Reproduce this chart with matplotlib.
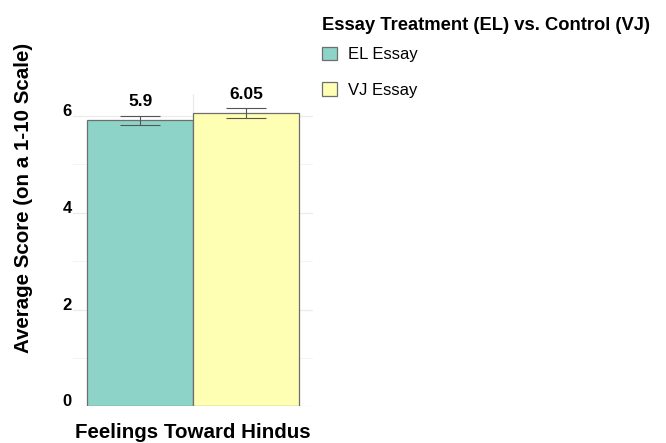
import matplotlib
matplotlib.use("Agg")
import matplotlib.pyplot as plt
from matplotlib.patches import Patch
from matplotlib.transforms import offset_copy

plt.rcParams['font.family'] = ['Liberation Sans', 'DejaVu Sans']

# data
category = "Feelings Toward Hindus"
groups = ["EL Essay", "VJ Essay"]
means = [5.9, 6.05]
errors = [0.1, 0.1]
bar_labels = ["5.9", "6.05"]
colors = ["#8DD3C7", "#FFFFB3"]
yticks = [0, 2, 4, 6]

fig = plt.figure(figsize=(6.66, 4.43), dpi=100)
ax = fig.add_axes([0.1096, 0.0824, 0.3604, 0.706])

width = 0.45
offsets = [-width / 2, width / 2]
for i, g in enumerate(groups):
    x = 1 + offsets[i]
    ax.bar(x, means[i], width=width, color=colors[i], edgecolor="#6e6e6e",
           linewidth=0.9, zorder=2)
    ax.errorbar(x, means[i], yerr=errors[i], color="#555555", elinewidth=0.8,
                capsize=14.5, capthick=0.8, zorder=3)
    ax.text(x, means[i] + errors[i], bar_labels[i],
            transform=offset_copy(ax.transData, fig=fig, x=0, y=4.5, units='points'),
            ha='center', va='bottom', fontsize=12.5, fontweight='bold')

ax.set_xlim(0.49, 1.51)
ax.set_ylim(0, 6.45)
ax.set_xticks([1])
ax.set_xticklabels([category], fontsize=14.8, fontweight='bold')
ax.set_yticks(yticks)
ax.set_yticklabels([str(t) for t in yticks], fontsize=12, fontweight='bold', va='baseline')
ax.set_yticks([1, 3, 5], minor=True)
ax.tick_params(axis='both', which='both', length=0)
ax.tick_params(axis='x', pad=12)
ax.tick_params(axis='y', pad=1)
ax.grid(True, which='major', color='#ebebeb', linewidth=0.9, zorder=0)
ax.grid(True, which='minor', axis='y', color='#f4f4f4', linewidth=0.7, zorder=0)
ax.set_axisbelow(True)
for s in ax.spines.values():
    s.set_visible(False)

ax.set_ylabel("Average Score (on a 1-10 Scale)", fontsize=14.8, fontweight='bold')
ax.yaxis.set_label_coords(-0.167, 0.666, transform=ax.transAxes)

# legend title drawn separately so the gap to the keys can be matched
fig.text(322 / 666, 1 - 30.5 / 443, "Essay Treatment (EL) vs. Control (VJ)",
         ha='left', va='baseline', fontsize=13.2, fontweight='bold')
handles = [Patch(facecolor=colors[i], edgecolor="#6e6e6e", linewidth=0.9, label=groups[i])
           for i in range(len(groups))]
leg = fig.legend(handles=handles, loc='upper left', bbox_to_anchor=(0.4835, 0.895),
                 frameon=False, fontsize=12, handlelength=0.9, handleheight=0.9,
                 handletextpad=0.65, labelspacing=1.18, borderpad=0, borderaxespad=0)

fig.savefig("out.png", dpi=100)
